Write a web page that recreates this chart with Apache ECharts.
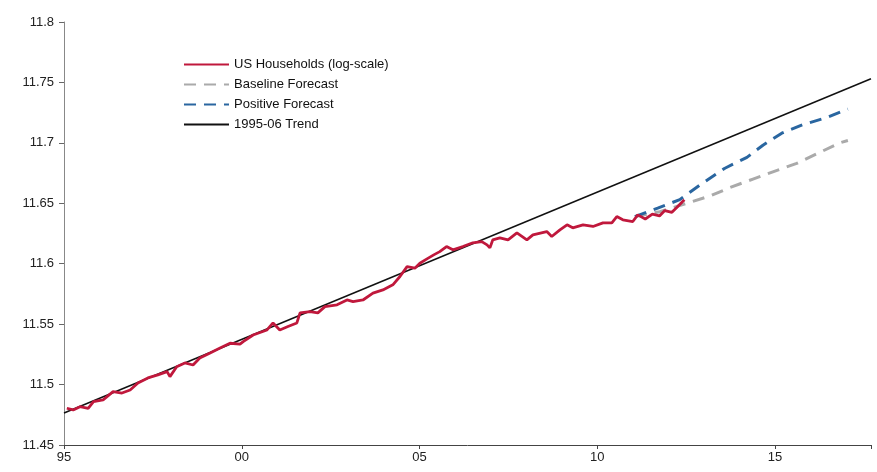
<!DOCTYPE html>
<html>
<head>
<meta charset="utf-8">
<script src="https://cdn.jsdelivr.net/npm/echarts@6/dist/echarts.min.js"></script>
<style>
  html, body { margin: 0; padding: 0; background: #fff; }
  #chart { width: 877px; height: 472px; }
</style>
</head>
<body>
<div id="chart"></div>
<script>
// US households (log)
const houseYears = [1995.08, 1995.26, 1995.45, 1995.68, 1995.83, 1996.10, 1996.38, 1996.63, 1996.86, 1997.08,
  1997.36, 1997.64, 1997.90, 1997.98, 1998.17, 1998.40, 1998.63, 1998.82, 1999.11, 1999.39,
  1999.67, 1999.95, 2000.04, 2000.32, 2000.71, 2000.88, 2001.07, 2001.30, 2001.55, 2001.64,
  2001.92, 2002.14, 2002.34, 2002.68, 2002.96, 2003.13, 2003.41, 2003.69, 2003.97, 2004.25,
  2004.45, 2004.65, 2004.87, 2005.01, 2005.21, 2005.40, 2005.57, 2005.76, 2005.94, 2006.22,
  2006.50, 2006.75, 2006.90, 2006.98, 2007.06, 2007.26, 2007.49, 2007.74, 2008.02, 2008.19,
  2008.58, 2008.72, 2008.95, 2009.15, 2009.31, 2009.60, 2009.88, 2010.16, 2010.41, 2010.55,
  2010.72, 2011.00, 2011.14, 2011.35, 2011.55, 2011.75, 2011.90, 2012.10, 2012.25, 2012.45];
const houseValues = [11.4804, 11.4790, 11.4817, 11.4804, 11.4859, 11.4873, 11.4941, 11.4930, 11.4955, 11.5013,
  11.5055, 11.5080, 11.5107, 11.5066, 11.5148, 11.5179, 11.5162, 11.5220, 11.5262, 11.5303,
  11.5342, 11.5335, 11.5356, 11.5410, 11.5452, 11.5510, 11.5452, 11.5480, 11.5510, 11.5593,
  11.5604, 11.5593, 11.5645, 11.5660, 11.5700, 11.5686, 11.5700, 11.5756, 11.5783, 11.5825,
  11.5894, 11.5976, 11.5963, 11.6004, 11.6040, 11.6073, 11.6100, 11.6142, 11.6115, 11.6142,
  11.6173, 11.6183, 11.6156, 11.6131, 11.6197, 11.6214, 11.6197, 11.6255, 11.6197, 11.6239,
  11.6266, 11.6225, 11.6280, 11.6322, 11.6297, 11.6322, 11.6308, 11.6338, 11.6338, 11.6390,
  11.6363, 11.6349, 11.6404, 11.6370, 11.6410, 11.6395, 11.6440, 11.6425, 11.6470, 11.6530];

const baseYears = [2011.06, 2011.76, 2012.52, 2013.17, 2013.73, 2014.38, 2014.94, 2015.61, 2016.18, 2016.82, 2017.05];
const baseValues = [11.639, 11.643, 11.650, 11.656, 11.663, 11.670, 11.676, 11.683, 11.691, 11.700, 11.702];

const posYears = [2011.06, 2011.70, 2012.32, 2012.88, 2013.59, 2014.21, 2014.66, 2015.19, 2015.78, 2016.46, 2017.05];
const posValues = [11.639, 11.646, 11.653, 11.665, 11.679, 11.688, 11.698, 11.708, 11.715, 11.721, 11.728];

const trendYears = [1995, 2017.7];
const trendValues = [11.4765, 11.753];

const seriesNames = ['US Households (log-scale)', 'Baseline Forecast', 'Positive Forecast', '1995-06 Trend'];

const zip = (xs, ys) => xs.map((x, i) => [x, ys[i]]);

const myChart = echarts.init(document.getElementById('chart'));
const options = {
  animation: false,
  textStyle: { fontFamily: 'Liberation Sans, Arial, sans-serif' },
  grid: { left: 64, right: 6, top: 22, bottom: 27, containLabel: false },
  legend: {
    data: seriesNames,
    orient: 'vertical',
    left: 178,
    top: 53,
    itemWidth: 45,
    itemHeight: 14,
    itemGap: 7,
    // hide the dot that line series put in the legend icon
    itemStyle: { opacity: 0 },
    textStyle: { fontSize: 13, color: '#111' }
  },
  xAxis: {
    type: 'value',
    min: 1995,
    max: 2017.7,
    interval: 5,
    splitLine: { show: false },
    axisLine: { lineStyle: { color: '#444', width: 1 } },
    axisTick: { show: true, length: 4, lineStyle: { color: '#444' } },
    axisLabel: {
      fontSize: 13,
      color: '#222',
      margin: 6,
      formatter: function (v) {
        if (Math.abs(v % 5) > 0.001) return '';
        return String(Math.round(v) % 100).padStart(2, '0');
      }
    }
  },
  yAxis: {
    type: 'value',
    min: 11.45,
    max: 11.8,
    interval: 0.05,
    splitLine: { show: false },
    axisLine: { show: true, lineStyle: { color: '#888', width: 1 } },
    axisTick: { show: true, length: 5, lineStyle: { color: '#666' } },
    axisLabel: { fontSize: 13, color: '#222', margin: 10 }
  },
  series: [
    {
      name: seriesNames[3],
      type: 'line',
      symbol: 'none',
      z: 2,
      lineStyle: { color: '#111', width: 1.5 },
      itemStyle: { color: '#111' },
      data: zip(trendYears, trendValues)
    },
    {
      name: seriesNames[1],
      type: 'line',
      symbol: 'none',
      z: 3,
      lineStyle: { color: '#aaaaaa', width: 3, type: [12, 8] },
      itemStyle: { color: '#aaaaaa' },
      data: zip(baseYears, baseValues)
    },
    {
      name: seriesNames[2],
      type: 'line',
      symbol: 'none',
      z: 4,
      lineStyle: { color: '#2a66a0', width: 3, type: [12, 8] },
      itemStyle: { color: '#2a66a0' },
      data: zip(posYears, posValues)
    },
    {
      name: seriesNames[0],
      type: 'line',
      symbol: 'none',
      z: 5,
      lineStyle: { color: '#c0183c', width: 2.8 },
      itemStyle: { color: '#c0183c' },
      data: zip(houseYears, houseValues)
    }
  ]
};
myChart.setOption(options);
</script>
</body>
</html>
